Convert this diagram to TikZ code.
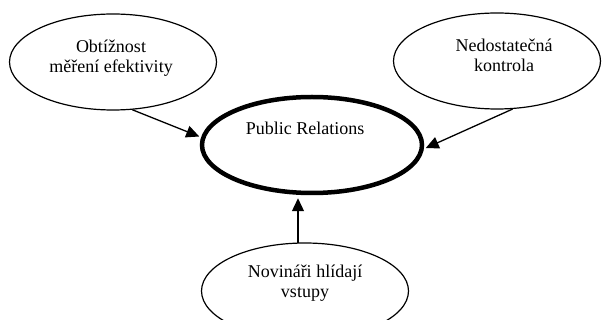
\documentclass[tikz,border=0pt]{standalone}
\usepackage{fontspec}
\setmainfont{Liberation Serif}
\usetikzlibrary{arrows.meta,shapes.geometric}
\begin{document}
\begin{tikzpicture}[x=1pt,y=-1pt,
  oval/.style={ellipse,draw,line width=1.2pt,inner sep=0pt},
  bigoval/.style={ellipse,draw,line width=4.5pt,inner sep=0pt,minimum width=220pt,minimum height=96pt},
  smalloval/.style={oval,minimum width=207pt,minimum height=96pt},
  txt/.style={font=\fontsize{18}{20.5}\selectfont,align=center,inner sep=0pt,anchor=base},
  arr/.style={line width=1.3pt,-{Triangle[length=13pt,width=12pt]}}]
\useasboundingbox (0,0) rectangle (603,320);
\node[smalloval] (L) at (113,62) {};
\node[smalloval] (R) at (497,61) {};
\node[bigoval] (C) at (312,145) {};
\node[smalloval] (B) at (305,291) {};
\node[txt] (Lt) at (111,73) {Obtížnost\\měření efektivity};
\node[txt] (Rt) at (504,72) {Nedostatečná\\kontrola};
\node[txt] (Ct) at (305,135) {Public Relations};
\node[txt] (Bt) at (305,298) {Novináři hlídají\\vstupy};
\draw[arr,shorten >=2pt] (L.-68) -- (C.176);
\draw[arr,shorten >=2pt] (R.-72) -- (C.-2.6);
\coordinate (bs) at (298,243);
\draw[arr,shorten >=3pt] (bs) -- (bs |- C.south);
\end{tikzpicture}
\end{document}
